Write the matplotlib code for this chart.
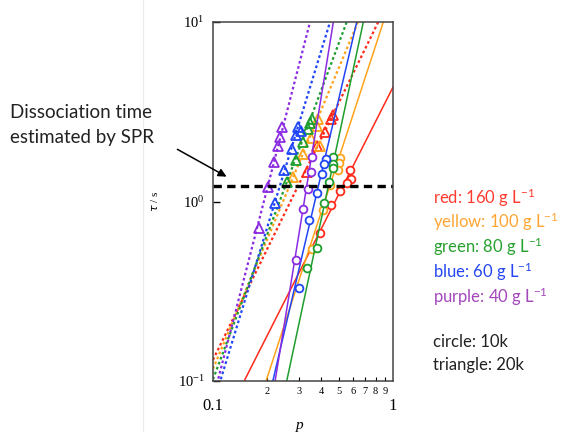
import numpy as np
import matplotlib
matplotlib.use("Agg")
from matplotlib import pyplot as plt
from matplotlib.lines import Line2D
from matplotlib.ticker import FixedLocator, FixedFormatter, NullLocator

# concentration series, order: red, yellow, green, blue, purple
names = ["red", "yellow", "green", "blue", "purple"]
conc = [160, 100, 80, 60, 40]
plot_colors = ["#ff2a1a", "#ffa31a", "#1e9e2e", "#1f45f5", "#8a2be2"]
legend_colors = ["#ff3b2f", "#ffa533", "#27a02e", "#2446f2", "#a347ba"]

# circles: 10k
p_10k = [
    [0.577, 0.582, 0.552, 0.508, 0.455, 0.395],
    [0.508, 0.503, 0.492, 0.447, 0.406, 0.353],
    [0.466, 0.462, 0.466, 0.443, 0.415, 0.377, 0.332],
    [0.425, 0.415, 0.401, 0.377, 0.342, 0.301],
    [0.353, 0.350, 0.338, 0.315, 0.289],
]
tau_10k = [
    [1.50, 1.33, 1.26, 1.15, 0.95, 0.667],
    [1.75, 1.63, 1.49, 1.24, 0.90, 0.546],
    [1.78, 1.62, 1.53, 1.28, 0.98, 0.552, 0.428],
    [1.73, 1.62, 1.42, 1.12, 0.79, 0.329],
    [1.78, 1.46, 1.18, 0.91, 0.473],
]

# triangles: 20k
p_20k = [
    [0.466, 0.451, 0.419, 0.380, 0.332],
    [0.385, 0.376, 0.350, 0.393, 0.318, 0.279],
    [0.353, 0.346, 0.338, 0.318, 0.289, 0.257],
    [0.298, 0.308, 0.289, 0.274, 0.249, 0.220],
    [0.241, 0.236, 0.231, 0.218, 0.201, 0.179],
]
tau_20k = [
    [3.03, 2.88, 2.43, 2.03, 1.46],
    [2.89, 2.64, 2.27, 2.05, 1.84, 1.37],
    [2.88, 2.72, 2.54, 2.14, 1.71, 1.28],
    [2.59, 2.48, 2.35, 1.96, 1.50, 0.975],
    [2.59, 2.28, 2.05, 1.65, 1.21, 0.714],
]

# power-law fits: tau = 10**b * p**a
a_10k = [1.98, 3.07, 4.70, 4.29, 6.18]
b_10k = [0.637, 1.165, 1.775, 1.864, 3.048]
a_20k = [2.05, 2.40, 2.68, 3.28, 3.90]
b_20k = [1.168, 1.467, 1.689, 2.148, 2.798]

tau_spr = 1.22

plt.rcParams['mathtext.fontset'] = 'custom'
plt.rcParams['mathtext.rm'] = 'Liberation Serif'

fig = plt.figure(figsize=(5.69, 4.32), dpi=100)
ax = fig.add_axes([213 / 569, 1 - 381 / 432, 180 / 569, 359 / 432])
ax.set_xscale('log')
ax.set_yscale('log')

p_line = np.logspace(-1, 0, 200)
for i in range(len(names)):
    c = plot_colors[i]
    ax.plot(p_line, 10 ** b_10k[i] * p_line ** a_10k[i], color=c, lw=1.1)
    ax.plot(p_line, 10 ** b_20k[i] * p_line ** a_20k[i], color=c, lw=1.6,
            linestyle=(0, (1.2, 1.2)))
    ax.plot(p_10k[i], tau_10k[i], 'o', mfc='white', mec=c, mew=1.3, ms=5.6)
    ax.plot(p_20k[i], tau_20k[i], '^', mfc='none', mec=c, mew=1.3, ms=7)

ax.axhline(tau_spr, color='black', lw=2.4, linestyle=(0, (2.5, 1.6)))

ax.set_xlim(0.1, 1)
ax.set_ylim(0.1, 10)

for s in ax.spines.values():
    s.set_color('#444444')
    s.set_linewidth(1.1)

serif = 'Liberation Serif'
ax.xaxis.set_major_locator(FixedLocator([0.1, 1]))
ax.xaxis.set_major_formatter(FixedFormatter(['0.1', '1']))
minor_x = [0.2, 0.3, 0.4, 0.5, 0.6, 0.7, 0.8, 0.9]
ax.xaxis.set_minor_locator(FixedLocator(minor_x))
ax.xaxis.set_minor_formatter(FixedFormatter([str(k) for k in range(2, 10)]))
ax.tick_params(axis='x', which='major', direction='in', length=0, pad=12,
               labelsize=12, labelfontfamily=serif)
ax.tick_params(axis='x', which='minor', direction='in', length=3, width=0.8,
               pad=4, labelsize=7.5, labelfontfamily=serif)

ax.yaxis.set_major_locator(FixedLocator([0.1, 1, 10]))
ax.yaxis.set_major_formatter(FixedFormatter([r'$\mathregular{10^{-1}}$',
                                             r'$\mathregular{10^{0}}$',
                                             r'$\mathregular{10^{1}}$']))
ax.yaxis.set_minor_locator(NullLocator())
ax.tick_params(axis='y', which='major', direction='in', length=5, width=1,
               pad=6, labelsize=10.5, labelfontfamily=serif)

fig.text(155 / 569, 1 - 201 / 432, r'$\tau$ / s', rotation=90, ha='center',
         va='center', fontsize=8, family=serif)
fig.text(300 / 569, 1 - 426 / 432, 'p', style='italic', ha='center',
         va='center', fontsize=11, family=serif)

# slide decoration
fig.add_artist(Line2D([143 / 569] * 2, [0, 1], color='#ececec', lw=0.8,
                      transform=fig.transFigure))

sans = ['Lato', 'DejaVu Sans']
fig.text(10 / 569, 1 - 113 / 432, 'Dissociation time', fontsize=13.5,
         family=sans, color='#222222', va='center')
fig.text(10 / 569, 1 - 138 / 432, 'estimated by SPR', fontsize=13.5,
         family=sans, color='#222222', va='center')
ax.annotate('', xy=(229, 432 - 178), xycoords='figure pixels',
            xytext=(175, 432 - 148), textcoords='figure pixels',
            arrowprops=dict(arrowstyle='-|>', color='black', lw=1.1,
                            mutation_scale=12),
            annotation_clip=False)

leg_y = [198, 222, 247, 272, 297]
for i in range(len(names)):
    fig.text(433 / 569, 1 - leg_y[i] / 432,
             names[i] + ': ' + str(conc[i]) + r' g $\mathregular{L^{-1}}$',
             fontsize=12, family=sans, color=legend_colors[i], va='center')
fig.text(433 / 569, 1 - 342 / 432, 'circle: 10k', fontsize=12, family=sans,
         color='#222222', va='center')
fig.text(433 / 569, 1 - 365 / 432, 'triangle: 20k', fontsize=12,
         family=sans, color='#222222', va='center')

fig.savefig('out.png', dpi=100)
